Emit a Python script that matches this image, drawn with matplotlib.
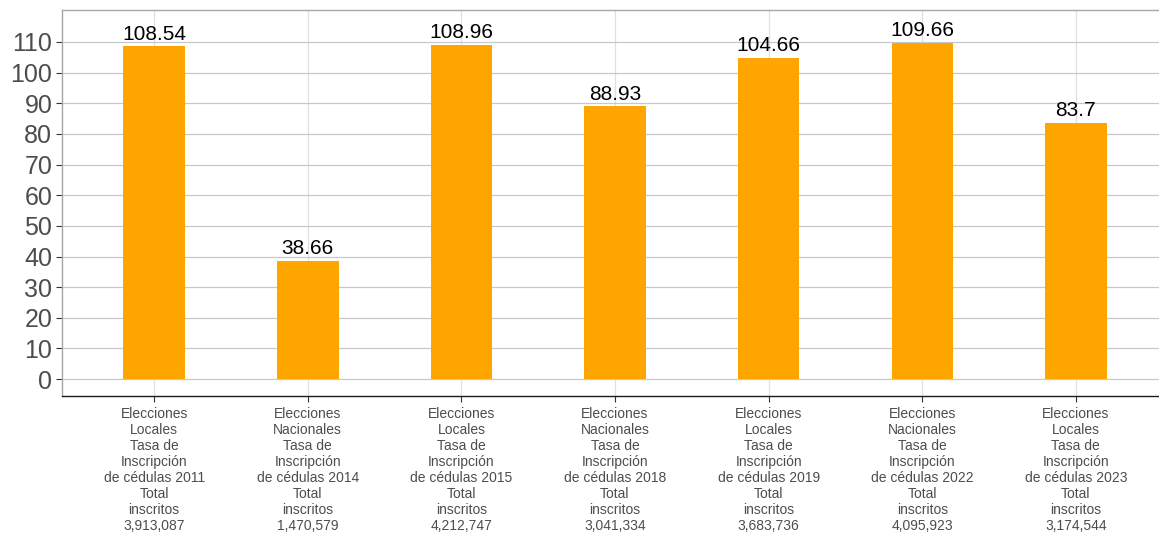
import numpy as np
import matplotlib.pyplot as plt

# Datos
elecciones = ['Locales', 'Nacionales', 'Locales', 'Nacionales', 'Locales', 'Nacionales', 'Locales']
anios = ['2011', '2014', '2015', '2018', '2019', '2022', '2023']
inscritos = ['3,913,087', '1,470,579', '4,212,747', '3,041,334', '3,683,736', '4,095,923', '3,174,544']
tasa = [108.54, 38.66, 108.96, 88.93, 104.66, 109.66, 83.7]

etiquetas = [f'Elecciones\n{e}\nTasa de\nInscripción\nde cédulas {a}\nTotal\ninscritos\n{n}'
             for e, a, n in zip(elecciones, anios, inscritos)]

plt.rcParams['font.family'] = ['Liberation Sans', 'DejaVu Sans']

fig = plt.figure(figsize=(11.59, 5.36), dpi=100)
ax = fig.add_axes([62 / 1159, 1 - 396 / 536, 1106 / 1159, 386 / 536])

x = np.arange(len(tasa))
ax.bar(x, tasa, width=0.4, color='#FFA500', zorder=2)

for xi, v in zip(x, tasa):
    ax.annotate(f'{v:g}', (xi, v), xytext=(0, 2), textcoords='offset points',
                ha='center', va='bottom', fontsize=15, color='black')

ax.set_xlim(-0.6, 6.6)
ax.set_ylim(-5.5, 120.4)
ax.set_yticks(np.arange(0, 111, 10))
ax.set_xticks(x)
ax.set_xticklabels(etiquetas, fontsize=10, color='#4D4D4D', linespacing=1.18)
ax.tick_params(axis='y', labelsize=18, labelcolor='#4D4D4D', color='#333333', length=4, pad=3)
ax.tick_params(axis='x', color='#333333', length=4, pad=4)

ax.grid(axis='y', color='#C8C8C8', linewidth=0.9, zorder=0)
ax.grid(axis='x', color='#E0E0E0', linewidth=0.9, zorder=0)
ax.set_axisbelow(True)

for s in ['top', 'left']:
    ax.spines[s].set_color('#A6A6A6')
    ax.spines[s].set_linewidth(1)
ax.spines['right'].set_visible(False)
ax.spines['bottom'].set_color('#1A1A1A')
ax.spines['bottom'].set_linewidth(1)

fig.savefig('out.png', dpi=100)
